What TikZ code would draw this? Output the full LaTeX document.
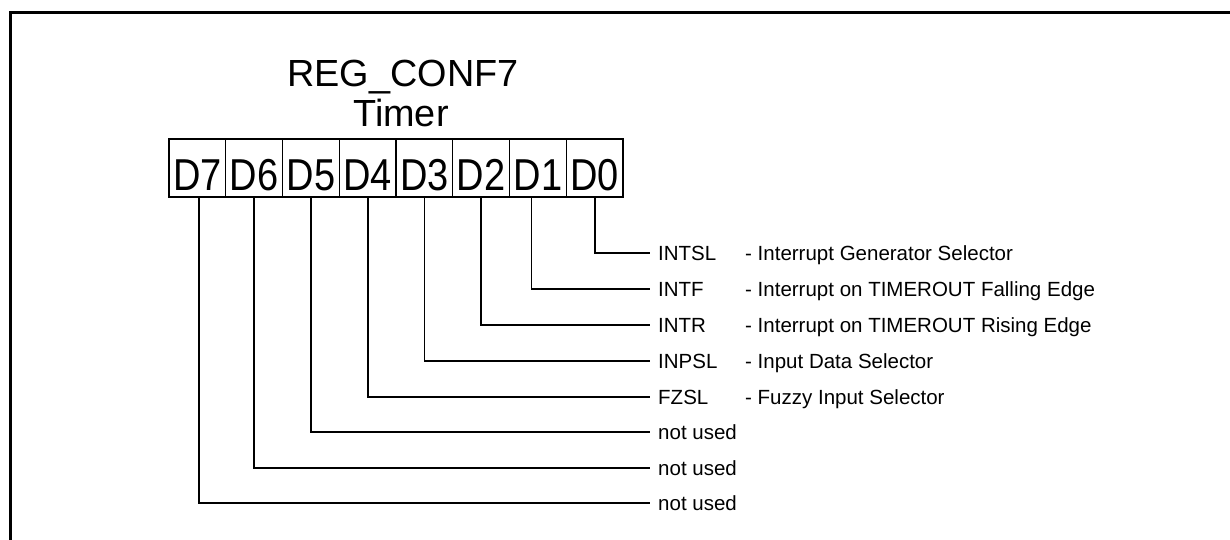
\documentclass[tikz,border=0pt]{standalone}
\usepackage{fontspec}
\setmainfont{Liberation Sans}
\newfontfamily\bitfont[FakeStretch=0.85]{Liberation Sans}
\usetikzlibrary{positioning}

\begin{document}
\begin{tikzpicture}[x=1pt, y=-1pt,
    bitbox/.style={draw, line width=1.4pt, minimum width=56.75pt, minimum height=58pt,
      inner sep=0pt, outer sep=0pt, text height=45pt, text depth=0pt,
      font=\bitfont\fontsize{44.7}{48}\selectfont},
    fieldname/.style={anchor=west, inner xsep=8pt, inner ysep=0pt, text height=14.7pt,
      text depth=0pt, font=\fontsize{20.5}{24}\selectfont},
    fielddesc/.style={fieldname, inner xsep=0pt},
    wire/.style={line width=1.7pt}]
  \useasboundingbox (0,0) rectangle (1230,540);
  \draw[line width=2.8pt] (10.7,545) -- (10.7,12.2) -- (1235,12.2);
  \node[font=\fontsize{37.8}{40}\selectfont, anchor=base] (title) at (403,87) {REG\_CONF7};
  \node[font=\fontsize{37.8}{40}\selectfont, anchor=base] (subtitle) at (401,127) {Timer};
  \node[bitbox] (b7) at (197.4,168) {D7};
  \foreach \i/\j in {6/7, 5/6, 4/5, 3/4, 2/3, 1/2, 0/1}
    \node[bitbox, right=0pt of b\j] (b\i) {D\i};
  \foreach \i/\dx/\y/\name in {0/0/253/INTSL, 1/-6.5/289/INTF, 2/0/325/INTR, 3/0/361/INPSL,
                               4/0/397/FZSL, 5/0/432/not used, 6/0/468/not used, 7/1.5/503/not used}
  {
    \node[fieldname] (n\i) at (650,\y) {\name};
    \draw[wire] ([xshift=\dx pt]b\i.south) |- (n\i.west);
  }
  \foreach \i/\desc in {0/Interrupt Generator Selector, 1/Interrupt on TIMEROUT Falling Edge,
                        2/Interrupt on TIMEROUT Rising Edge, 3/Input Data Selector, 4/Fuzzy Input Selector}
    \node[fielddesc] (d\i) at (n\i.west -| 745,0) {- \desc};
\end{tikzpicture}
\end{document}
